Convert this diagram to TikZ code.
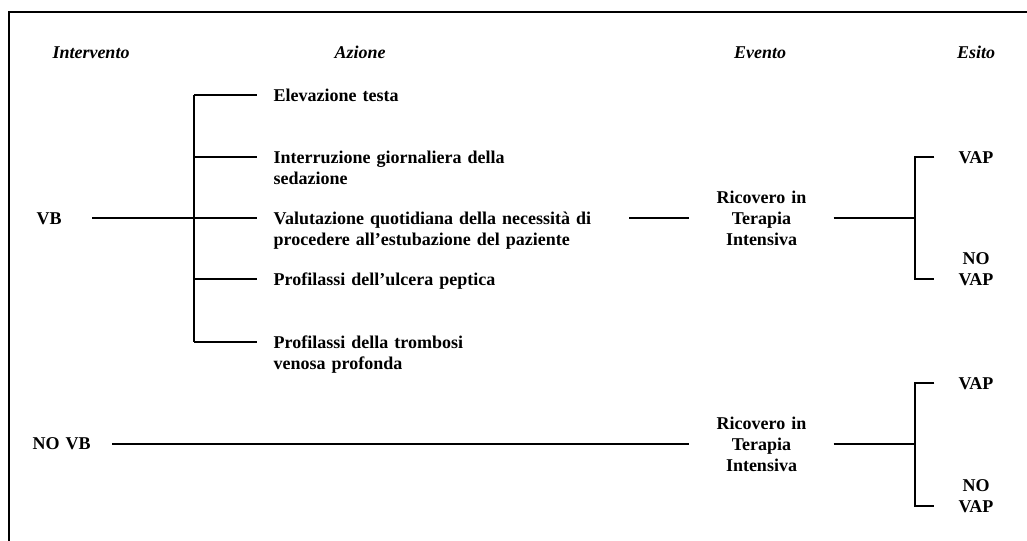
\documentclass[tikz,border=0pt]{standalone}
\usepackage{fontspec}
\setmainfont{Liberation Serif}
\begin{document}
\begin{tikzpicture}[x=0.75pt,y=-0.75pt,line width=1pt,
  txt/.style={font=\fontsize{13.5}{15.75}\selectfont\bfseries,inner sep=0pt,align=left,anchor=base west,text width=266.25pt},
  hdr/.style={font=\fontsize{13.5}{15.75}\selectfont\bfseries\itshape,inner sep=0pt,anchor=base},
  evt/.style={font=\fontsize{13.5}{15.75}\selectfont\bfseries,inner sep=0pt,align=center,anchor=base,text width=107.25pt},
  outc/.style={font=\fontsize{13.5}{15.75}\selectfont\bfseries,inner sep=0pt,align=center,anchor=base,text width=61.5pt},
  frm/.style={line width=1.1pt}]
\useasboundingbox (0,0) rectangle (1027,540);
\draw[frm] (9,545) -- (9,12) -- (1032,12);
% headers
\node[hdr] (h1) at (91,58) {Intervento};
\node[hdr] (h2) at (360,58) {Azione};
\node[hdr] (h3) at (760,58) {Evento};
\node[hdr] (h4) at (976,58) {Esito};
% interventions
\node[txt,text width=41.25pt] (vb) at (36,224) {VB};
\node[txt,text width=60pt] (novb) at (32,449.5) {NO VB};
% actions
\node[txt] (a1) at (273,101) {Elevazione testa};
\node[txt] (a2) at (273,163) {Interruzione giornaliera della\\sedazione};
\node[txt] (a3) at (273,224) {Valutazione quotidiana della necessità di\\procedere all’estubazione del paziente};
\node[txt] (a4) at (273,285) {Profilassi dell’ulcera peptica};
\node[txt] (a5) at (273,348) {Profilassi della trombosi\\venosa profonda};
% events
\node[evt] (r1) at (761.5,203) {Ricovero in\\Terapia\\Intensiva};
\node[evt] (r2) at (761.5,429.5) {Ricovero in\\Terapia\\Intensiva};
% outcomes
\node[outc] (o1) at (976,163) {VAP};
\node[outc] (o2) at (976,264) {NO\\VAP};
\node[outc] (o3) at (976,389) {VAP};
\node[outc] (o4) at (976,491) {NO\\VAP};
% junctions
\coordinate (b1) at (194,95);
\coordinate (b2) at (194,157);
\coordinate (b3) at (194,218);
\coordinate (b4) at (194,279);
\coordinate (b5) at (194,342);
\coordinate (c1u) at (915,157);
\coordinate (c1) at (915,218);
\coordinate (c1d) at (915,279);
\coordinate (c2u) at (915,383);
\coordinate (c2) at (915,444);
\coordinate (c2d) at (915,506);
\coordinate (d2) at (112,444);
% connectors
\draw (b3 -| vb.east) -- (b3);
\draw (b1) -- (b5);
\draw[shorten >=12pt] (b1) -- (b1 -| a1.west);
\draw[shorten >=12pt] (b2) -- (b2 -| a2.west);
\draw[shorten >=12pt] (b3) -- (b3 -| a3.west);
\draw[shorten >=12pt] (b4) -- (b4 -| a4.west);
\draw[shorten >=12pt] (b5) -- (b5 -| a5.west);
\draw (b3 -| a3.east) -- (b3 -| r1.west);
\draw (b3 -| r1.east) -- (c1);
\draw (c1u -| o1.west) -- (c1u) -- (c1d) -- (c1d -| o2.west);
\draw (d2) -- (d2 -| r2.west);
\draw (c2 -| r2.east) -- (c2);
\draw (c2u -| o3.west) -- (c2u) -- (c2d) -- (c2d -| o4.west);
\end{tikzpicture}
\end{document}
